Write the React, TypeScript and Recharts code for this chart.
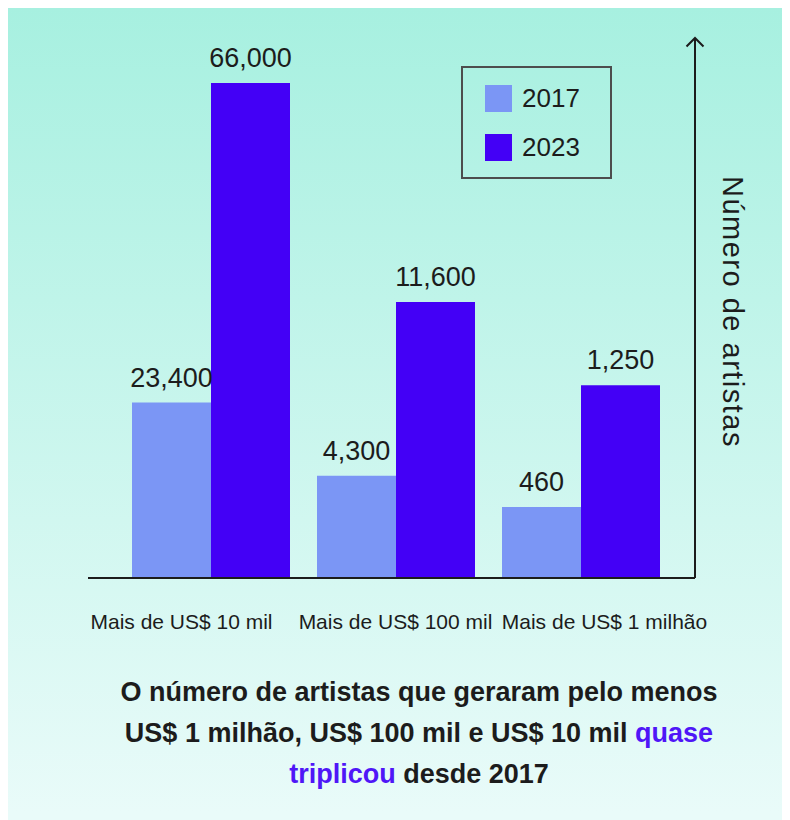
import React from "react";
import { BarChart, Bar, XAxis, YAxis, LabelList, Legend, Label } from "recharts";

const categories = ["Mais de US$ 10 mil", "Mais de US$ 100 mil", "Mais de US$ 1 milhão"];
const artists2017 = [23400, 4300, 460];
const artists2023 = [66000, 11600, 1250];
const seriesNames = ["2017", "2023"];
const yAxisLabel = "Número de artistas";

// the original graphic scales every group on its own
const groupMax = [72000, 22700, 3500];

const COLOR_2017 = "#7b96f5";
const COLOR_2023 = "#4300f6";
const HIGHLIGHT = "#4f16f7";
const INK = "#1c1c1c";
const FONT = '"Liberation Sans", Arial, Helvetica, sans-serif';

const PLOT_H = 540;
const TOP = 10;
const AXIS_H = 70;

const panels = [
  { width: 215, padding: { left: 30, right: 0 }, tickDx: -29 },
  { width: 185, padding: { left: 0, right: 0 }, tickDx: 0 },
  { width: 282, padding: { left: 0, right: 22 }, tickDx: 24 },
];

const fmt = (v: any) => Number(v).toLocaleString("en-US");

const LegendBox = ({ payload }: any) => (
  <div
    style={{
      width: 151,
      height: 113,
      boxSizing: "border-box",
      border: "2px solid #4d4d4d",
      position: "relative",
    }}
  >
    {(payload || []).map((entry: any, i: number) => (
      <div
        key={entry.value}
        style={{ position: "absolute", left: 22, top: 17 + i * 49, display: "flex", alignItems: "center" }}
      >
        <span style={{ width: 27, height: 27, background: entry.color, display: "inline-block" }} />
        <span style={{ marginLeft: 10, fontSize: 26, color: INK, lineHeight: "27px" }}>{entry.value}</span>
      </div>
    ))}
  </div>
);

const AxisTitle = ({ viewBox }: any) => {
  const { x, y, width, height } = viewBox;
  const cx = x + width / 2;
  const cy = y + height / 2 + 4;
  return (
    <g>
      <path
        d={`M${x - 8.5},${y + 8.5} L${x},${y} L${x + 8.5},${y + 8.5}`}
        fill="none"
        stroke={INK}
        strokeWidth={2}
      />
      <text
        x={cx}
        y={cy}
        transform={`rotate(90, ${cx}, ${cy})`}
        textAnchor="middle"
        dominantBaseline="central"
        fontSize={29}
        letterSpacing={1.5}
        fill={INK}
      >
        {yAxisLabel}
      </text>
    </g>
  );
};

const GroupChart = ({ idx }: { idx: number }) => {
  const panel = panels[idx];
  const data = [{ group: categories[idx], v2017: artists2017[idx], v2023: artists2023[idx] }];
  const last = idx === panels.length - 1;
  return (
    <BarChart
      width={panel.width}
      height={TOP + PLOT_H + AXIS_H}
      data={data}
      margin={{ top: TOP, right: 0, bottom: 0, left: 0 }}
      barGap={0}
    >
      <XAxis
        dataKey="group"
        type="category"
        height={AXIS_H}
        padding={panel.padding}
        axisLine={{ stroke: INK, strokeWidth: 2 }}
        tickLine={false}
        tickSize={0}
        tickMargin={36}
        tick={{ fill: INK, fontSize: 21, dx: panel.tickDx }}
        interval={0}
      />
      {last ? (
        <YAxis
          orientation="right"
          width={75}
          domain={[0, groupMax[idx]]}
          allowDataOverflow
          tick={false}
          tickLine={false}
          axisLine={{ stroke: INK, strokeWidth: 2 }}
        >
          <Label content={AxisTitle} />
        </YAxis>
      ) : (
        <YAxis hide domain={[0, groupMax[idx]]} allowDataOverflow />
      )}
      {last && (
        <Legend
          layout="horizontal"
          align="center"
          verticalAlign="middle"
          content={LegendBox}
          wrapperStyle={{ left: -27, top: 38, width: 151, height: 113 }}
        />
      )}
      <Bar dataKey="v2017" name={seriesNames[0]} fill={COLOR_2017} barSize={79} isAnimationActive={false}>
        <LabelList dataKey="v2017" position="top" offset={16} formatter={fmt} fill={INK} fontSize={27} />
      </Bar>
      <Bar dataKey="v2023" name={seriesNames[1]} fill={COLOR_2023} barSize={79} isAnimationActive={false}>
        <LabelList dataKey="v2023" position="top" offset={16} formatter={fmt} fill={INK} fontSize={27} />
      </Bar>
    </BarChart>
  );
};

export default function App() {
  return (
    <div
      style={{
        position: "relative",
        width: 790,
        height: 820,
        background: "linear-gradient(180deg, #a7f0e0 0%, #e9fbf9 98%)",
        fontFamily: FONT,
        color: INK,
      }}
    >
      <style>{`body { overflow: hidden; } .recharts-surface { overflow: visible; }`}</style>
      <div style={{ position: "absolute", top: 20, left: 80, display: "flex" }}>
        {panels.map((_, i) => (
          <GroupChart key={i} idx={i} />
        ))}
      </div>
      <div
        style={{
          position: "absolute",
          top: 664,
          left: 40,
          width: 742,
          textAlign: "center",
          fontSize: 27,
          fontWeight: "bold",
          lineHeight: "41px",
        }}
      >
        O número de artistas que geraram pelo menos
        <br />
        US$ 1 milhão, US$ 100 mil e US$ 10 mil <span style={{ color: HIGHLIGHT }}>quase</span>
        <br />
        <span style={{ color: HIGHLIGHT }}>triplicou</span> desde 2017
      </div>
    </div>
  );
}
